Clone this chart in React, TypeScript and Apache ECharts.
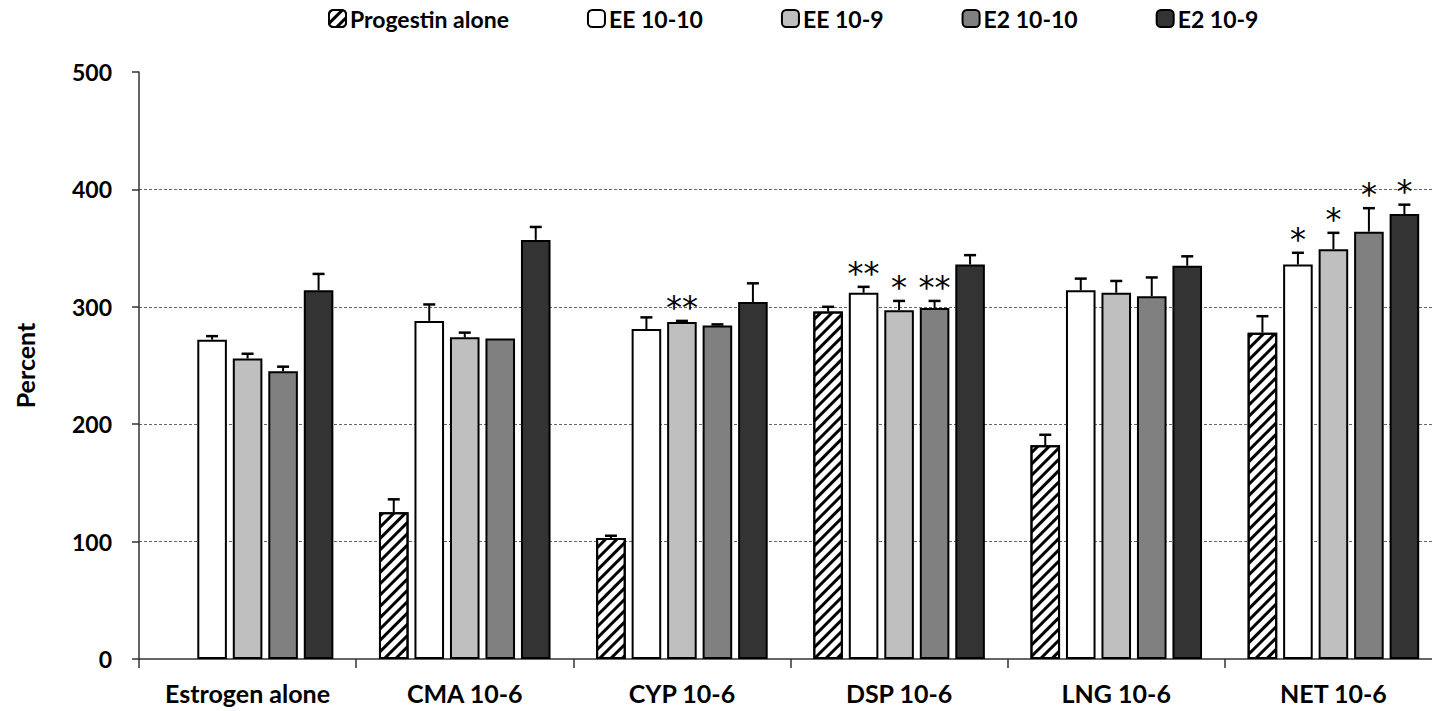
import React, { useEffect, useRef } from "react";
import * as echarts from "echarts";

const categories = ["Estrogen alone", "CMA 10-6", "CYP 10-6", "DSP 10-6", "LNG 10-6", "NET 10-6"];
const seriesNames = ["Progestin alone", "EE 10-10", "EE 10-9", "E2 10-10", "E2 10-9"];
const seriesColors = ["#ffffff", "#ffffff", "#bfbfbf", "#808080", "#333333"];

const progestinAlone = [null, 125, 103, 296, 182, 278];
const ee1010 = [272, 288, 281, 312, 314, 336];
const ee109 = [256, 274, 287, 297, 312, 349];
const e21010 = [245, 273, 284, 299, 309, 364];
const e209 = [314, 357, 304, 336, 335, 379];

const progestinAloneErrTop = [null, 136, 105, 300, 191, 292];
const ee1010ErrTop = [275, 302, 291, 317, 324, 346];
const ee109ErrTop = [260, 278, 288, 305, 322, 363];
const e21010ErrTop = [249, 273, 285, 305, 325, 384];
const e209ErrTop = [328, 368, 320, 344, 343, 387];

const progestinAloneStars = ["", "", "", "", "", ""];
const ee1010Stars = ["", "", "", "**", "", "*"];
const ee109Stars = ["", "", "**", "*", "", "*"];
const e21010Stars = ["", "", "", "**", "", "*"];
const e209Stars = ["", "", "", "", "", "*"];

const yTicks = [0, 100, 200, 300, 400, 500];

const values = [progestinAlone, ee1010, ee109, e21010, e209];
const errTops = [progestinAloneErrTop, ee1010ErrTop, ee109ErrTop, e21010ErrTop, e209ErrTop];
const stars = [progestinAloneStars, ee1010Stars, ee109Stars, e21010Stars, e209Stars];

const CAT_GAP = 0.21;
const BAR_GAP = 0.2;
const FONT = "Lato, 'Open Sans', sans-serif";

export default function App() {
  const ref = useRef<HTMLDivElement>(null);
  useEffect(() => {
    if (!ref.current) return;
    const chart = echarts.init(ref.current, null, { renderer: "svg" });

    const errData: any[] = [];
    values.forEach((vals, si) => {
      vals.forEach((v, ci) => {
        if (v == null) return;
        errData.push([ci, si, v, errTops[si][ci], stars[si][ci]]);
      });
    });

    const barSeries = seriesNames.map((name, i) => ({
      name,
      type: "bar",
      data: values[i],
      barGap: (BAR_GAP * 100) + "%",
      barCategoryGap: (CAT_GAP * 100) + "%",
      itemStyle: {
        color: seriesColors[i],
        borderColor: "#000",
        borderWidth: 2,
        ...(i === 0
          ? {
              decal: {
                symbol: "rect",
                color: "#000",
                backgroundColor: "#fff",
                dashArrayX: [1, 0],
                dashArrayY: [2.5, 4.5],
                rotation: -Math.PI / 4,
              },
            }
          : {}),
      },
      emphasis: { disabled: true },
    }));

    const n = seriesNames.length;
    const errSeries = {
      type: "custom",
      data: errData,
      encode: { x: 0, y: 3 },
      z: 5,
      renderItem: (params: any, api: any) => {
        const ci = api.value(0);
        const si = api.value(1);
        const v = api.value(2);
        const e = api.value(3);
        const star = errData[params.dataIndex][4];
        const band = api.size([1, 0])[0];
        const avail = band * (1 - CAT_GAP);
        const w = avail / (n + (n - 1) * BAR_GAP);
        const base = api.coord([ci, v]);
        const cx = base[0] - avail / 2 + si * w * (1 + BAR_GAP) + w / 2;
        const yv = base[1];
        const ye = api.coord([ci, e])[1];
        const children: any[] = [];
        if (ye < yv - 0.5) {
          children.push({
            type: "line",
            shape: { x1: cx, y1: yv, x2: cx, y2: ye },
            style: { stroke: "#000", lineWidth: 2 },
          });
          children.push({
            type: "line",
            shape: { x1: cx - 6, y1: ye, x2: cx + 6, y2: ye },
            style: { stroke: "#000", lineWidth: 2.5 },
          });
        }
        if (star) {
          children.push({
            type: "text",
            x: cx,
            y: ye + 2,
            style: {
              text: star,
              fontSize: 32,
              fontFamily: "'DejaVu Sans', sans-serif",
              fill: "#000",
              align: "center",
              verticalAlign: "bottom",
              lineHeight: 32,
            },
          });
        }
        return { type: "group", children };
      },
    };

    chart.setOption({
      animation: false,
      backgroundColor: "#ffffff",
      textStyle: { fontFamily: FONT },
      legend: {
        left: 323,
        top: 2,
        itemWidth: 17,
        itemHeight: 17,
        itemGap: 78,
        selectedMode: false,
        data: seriesNames,
        textStyle: { fontFamily: FONT, fontWeight: "bold", fontSize: 23, color: "#000", padding: [0, 0, 0, -1] },
      },
      grid: {
        left: 139,
        top: 72,
        bottom: 52,
        right: -10,
        containLabel: false,
        outerBoundsMode: "none",
      },
      xAxis: {
        type: "category",
        data: categories,
        axisLine: { lineStyle: { color: "#333", width: 1.5 } },
        axisTick: { show: true, length: 9, lineStyle: { color: "#333", width: 1.5 } },
        axisLabel: {
          fontFamily: FONT,
          fontWeight: "bold",
          fontSize: 25,
          color: "#000",
          margin: 21,
        },
      },
      yAxis: {
        type: "value",
        min: yTicks[0],
        max: yTicks[yTicks.length - 1],
        interval: 100,
        name: "Percent",
        nameLocation: "middle",
        nameRotate: 90,
        nameGap: 102,
        nameTextStyle: { fontFamily: FONT, fontWeight: "bold", fontSize: 25, color: "#000" },
        axisLine: { show: true, lineStyle: { color: "#333", width: 1.5 } },
        axisTick: { show: true, length: 7, lineStyle: { color: "#333", width: 1.5 } },
        axisLabel: {
          fontFamily: FONT,
          fontWeight: "bold",
          fontSize: 23,
          color: "#000",
          margin: 27,
        },
        splitLine: {
          show: true,
          showMinLine: false,
          showMaxLine: false,
          lineStyle: { color: "#666", type: [3, 2], width: 1 },
        },
      },
      series: [...barSeries, errSeries],
    });

    return () => chart.dispose();
  }, []);

  return (
    <div
      ref={ref}
      style={{ position: "fixed", left: 0, top: 0, width: 1432, height: 711, background: "#fff" }}
    />
  );
}
